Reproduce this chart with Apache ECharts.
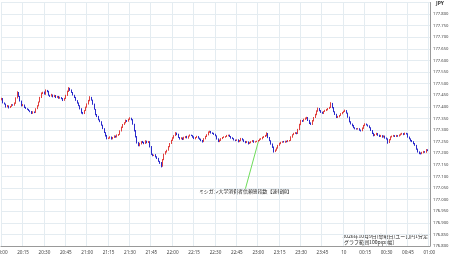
<!DOCTYPE html>
<html>
<head>
<meta charset="utf-8">
<script src="https://cdn.jsdelivr.net/npm/echarts@6/dist/echarts.min.js"></script>
<style>
  html, body { margin: 0; padding: 0; background: #fff; }
  #chart { width: 450px; height: 258px; }
</style>
</head>
<body>
<div id="chart"></div>
<script>
// EUR/JPY 1分足 20:00 - 01:00
const firstOpen = 177.430

const closes = [
  177.436, 177.418, 177.412, 177.400, 177.405, 177.396, 177.402, 177.410, 177.407, 177.415,
  177.438, 177.462, 177.446, 177.425, 177.405, 177.409, 177.398, 177.393, 177.389, 177.384,
  177.380, 177.372, 177.378, 177.376, 177.392, 177.404, 177.421, 177.440, 177.458, 177.463,
  177.455, 177.471, 177.466, 177.450, 177.446, 177.452, 177.444, 177.449, 177.441, 177.445,
  177.437, 177.441, 177.436, 177.428, 177.436, 177.449, 177.466, 177.480, 177.472, 177.462,
  177.451, 177.441, 177.428, 177.417, 177.406, 177.392, 177.375, 177.371, 177.384, 177.398,
  177.412, 177.426, 177.441, 177.430, 177.412, 177.390, 177.367, 177.358, 177.345, 177.336,
  177.322, 177.306, 177.290, 177.276, 177.263, 177.266, 177.270, 177.262, 177.268, 177.274,
  177.270, 177.278, 177.281, 177.296, 177.312, 177.324, 177.331, 177.341, 177.338, 177.346,
  177.350, 177.345, 177.326, 177.298, 177.272, 177.245, 177.232, 177.241, 177.250, 177.246,
  177.242, 177.252, 177.246, 177.250, 177.228, 177.196, 177.190, 177.193, 177.185, 177.178,
  177.166, 177.158, 177.144, 177.172, 177.196, 177.206, 177.213, 177.228, 177.242, 177.255,
  177.266, 177.276, 177.287, 177.281, 177.268, 177.262, 177.266, 177.260, 177.268, 177.272,
  177.266, 177.274, 177.278, 177.276, 177.270, 177.263, 177.268, 177.272, 177.266, 177.261,
  177.255, 177.250, 177.262, 177.272, 177.280, 177.290, 177.294, 177.288, 177.285, 177.282,
  177.276, 177.262, 177.250, 177.256, 177.263, 177.268, 177.270, 177.272, 177.276, 177.278,
  177.272, 177.266, 177.263, 177.258, 177.255, 177.258, 177.250, 177.254, 177.263, 177.258,
  177.251, 177.246, 177.250, 177.242, 177.246, 177.250, 177.254, 177.248, 177.250, 177.252,
  177.255, 177.260, 177.263, 177.268, 177.272, 177.276, 177.285, 177.268, 177.255, 177.240,
  177.226, 177.207, 177.214, 177.222, 177.234, 177.242, 177.247, 177.250, 177.248, 177.252,
  177.250, 177.254, 177.255, 177.270, 177.280, 177.285, 177.288, 177.285, 177.302, 177.323,
  177.341, 177.338, 177.346, 177.350, 177.354, 177.342, 177.330, 177.324, 177.340, 177.354,
  177.366, 177.382, 177.393, 177.384, 177.376, 177.372, 177.380, 177.384, 177.388, 177.393,
  177.397, 177.415, 177.397, 177.380, 177.368, 177.354, 177.358, 177.363, 177.370, 177.376,
  177.380, 177.384, 177.374, 177.356, 177.336, 177.326, 177.319, 177.310, 177.306, 177.304,
  177.306, 177.300, 177.297, 177.308, 177.319, 177.326, 177.322, 177.318, 177.311, 177.298,
  177.286, 177.276, 177.280, 177.285, 177.278, 177.272, 177.276, 177.270, 177.274, 177.266,
  177.262, 177.246, 177.258, 177.270, 177.274, 177.276, 177.272, 177.276, 177.274, 177.278,
  177.282, 177.285, 177.281, 177.286, 177.284, 177.270, 177.262, 177.254, 177.250, 177.242,
  177.235, 177.218, 177.206, 177.200, 177.198, 177.203, 177.207, 177.204, 177.214, 177.212
]

// ヒゲの長さ（0.001円単位）
const wickUp = [
  3,2,1,2,3,1,2,2,1,4, 3,5,2,1,2,3,1,2,1,2, 1,2,3,2,2,3,2,3,4,2, 3,4,2,3,2,4,1,3,2,2,
  2,3,1,2,3,3,4,5,2,3, 2,1,2,1,2,1,2,3,2,3, 3,4,5,2,1,2,1,2,3,1, 2,1,2,1,3,2,3,2,2,3,
  2,3,2,3,3,2,3,4,2,3, 5,3,2,1,2,2,3,4,2,3, 3,4,2,3,2,3,2,1,3,2, 2,1,4,3,2,3,2,3,2,3,
  3,2,4,2,3,2,3,2,3,2, 3,2,3,2,2,3,2,3,2,1, 2,2,3,3,2,4,3,2,2,3, 2,1,2,3,2,2,3,2,3,2,
  2,2,3,2,1,2,2,3,3,2, 2,2,3,1,2,2,3,2,2,2, 2,3,2,3,2,3,5,2,2,1, 2,3,2,3,2,3,2,2,3,2,
  2,3,2,3,2,3,3,2,3,4, 3,2,3,4,3,2,2,3,3,2, 4,3,4,2,2,3,2,3,3,2, 3,5,2,2,1,2,3,2,3,2,
  3,4,2,1,2,2,2,3,2,2, 3,2,2,3,3,3,2,2,2,1, 2,2,3,3,2,2,3,2,3,2, 2,2,3,3,2,3,2,3,2,3,
  3,3,2,3,2,2,2,2,3,2, 2,1,2,2,3,3,3,2,4,3
]
const wickDn = [
  2,3,2,3,2,3,1,2,2,2, 2,2,3,2,3,2,3,2,2,2, 3,3,2,3,2,2,2,2,2,3, 2,3,3,2,3,2,3,2,3,2,
  2,2,3,3,2,2,2,2,3,2, 2,3,2,3,3,3,4,3,2,2, 2,2,2,3,3,2,3,2,3,2, 3,2,3,4,3,2,3,3,2,2,
  3,2,3,2,2,3,2,2,3,2, 2,3,3,4,4,3,2,2,3,2, 3,2,3,2,3,3,3,2,3,3, 3,4,5,2,2,2,3,2,2,2,
  2,3,2,3,2,3,2,3,2,3, 2,3,2,2,3,2,3,2,3,3, 3,4,2,2,2,3,2,3,2,3, 3,3,2,2,3,2,2,3,2,3,
  2,3,2,3,3,2,3,2,2,3, 3,3,2,4,2,3,2,3,2,2, 3,2,2,3,2,2,3,3,3,3, 3,4,2,3,2,2,3,2,2,3,
  3,2,3,2,3,2,2,3,2,2, 2,3,2,2,3,3,4,2,2,3, 2,2,3,3,2,2,3,2,2,3, 2,2,3,3,3,2,2,3,2,2,
  2,2,3,3,3,2,3,2,3,2, 2,3,3,2,3,2,2,3,3,2, 3,3,2,2,3,2,2,3,2,3, 3,5,2,2,2,3,2,2,3,2,
  2,2,3,2,3,3,2,3,2,3, 3,3,3,4,3,2,3,2,2,3
]

const yTicks = { min: 176.8, max: 177.85, step: 0.05 }
const eventTime = '23:00'
const eventLabel = 'ミシガン大学消費者信頼感指数【速報値】'
const eventLabelAt = ['22:51', 177.036]
const noteLines = ['2026年10月9日(金曜日)ユーロ円1分足', '[グラフ範囲100pips幅]']

// 時刻カテゴリ 20:00 〜 01:00
const categories = []
for (let m = 0; m <= 300; m++) {
  const t = (20 * 60 + m) % (24 * 60)
  const hh = String(Math.floor(t / 60)).padStart(2, '0')
  const mm = String(t % 60).padStart(2, '0')
  categories.push(hh + ':' + mm)
}

// [open, close, low, high]
const ohlc = closes.map((c, i) => {
  const o = i === 0 ? firstOpen : closes[i - 1]
  const hi = Math.max(o, c) + wickUp[i] / 1000
  const lo = Math.min(o, c) - wickDn[i] / 1000
  return [o, c, lo, hi]
})

const eventIdx = categories.indexOf(eventTime)
const eventPrice = ohlc[eventIdx][2]

const chart = echarts.init(document.getElementById('chart'))

const option = {
  animation: false,
  backgroundColor: '#fff',
  grid: { left: 1, right: 20, top: 2.5, bottom: 12, containLabel: false, outerBoundsMode: 'none' },
  xAxis: {
    type: 'category',
    data: categories,
    axisLine: { show: true, lineStyle: { color: '#999', width: 1 } },
    axisTick: { show: false },
    axisLabel: {
      interval: 14,
      fontSize: 4.6,
      color: '#444',
      margin: 4,
      fontFamily: 'Noto Sans',
      hideOverlap: false,
      formatter: v => (v === '00:00' ? '10' : v)
    },
    splitLine: { show: true, interval: 14, lineStyle: { color: '#e4ecf1', width: 1 } }
  },
  yAxis: {
    type: 'value',
    position: 'right',
    min: yTicks.min,
    max: yTicks.max,
    interval: yTicks.step,
    axisLine: { show: true, lineStyle: { color: '#999', width: 1 } },
    axisTick: { show: false },
    axisLabel: {
      fontSize: 4.2,
      color: '#444',
      margin: 3,
      fontFamily: 'Noto Sans',
      formatter: v => (v > 177.82 ? '' : v.toFixed(3))
    },
    splitLine: { show: true, lineStyle: { color: '#e4ecf1', width: 1 } }
  },
  series: [
    {
      type: 'candlestick',
      data: ohlc,
      barWidth: 1,
      itemStyle: {
        color: '#e0403e',
        color0: '#2b2bcc',
        borderColor: '#e0403e',
        borderColor0: '#2b2bcc',
        borderWidth: 1
      },
      markLine: {
        silent: true,
        symbol: ['none', 'none'],
        label: { show: false },
        lineStyle: { color: '#6edc5a', width: 1, type: 'solid' },
        data: [[
          { coord: [eventTime, eventPrice] },
          { coord: ['22:51', 177.047] }
        ]]
      }
    }
  ],
  graphic: [
    {
      type: 'text',
      left: 436,
      top: 1,
      style: { text: 'JPY', fontSize: 5, fontWeight: 'bold', fill: '#333', fontFamily: 'Noto Sans' }
    },
    {
      type: 'text',
      right: 22,
      top: 233,
      style: {
        text: noteLines.join('\n'),
        fontSize: 5,
        lineHeight: 6,
        align: 'right',
        fill: '#222',
        backgroundColor: '#fff',
        fontFamily: 'Noto Sans CJK JP'
      }
    }
  ]
}

chart.setOption(option)

// 指標名ラベルは軸の座標から位置を決める
const labelPos = chart.convertToPixel({ gridIndex: 0 }, eventLabelAt)
chart.setOption({
  graphic: [
    {
      type: 'text',
      id: 'eventLabel',
      x: labelPos[0],
      y: labelPos[1],
      style: {
        text: eventLabel,
        fontSize: 4.9,
        align: 'center',
        verticalAlign: 'middle',
        fill: '#222',
        fontFamily: 'Noto Sans CJK JP'
      }
    }
  ]
})
</script>
</body>
</html>
